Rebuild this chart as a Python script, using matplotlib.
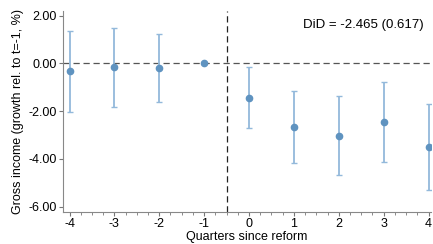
import numpy as np
import matplotlib
matplotlib.use("Agg")
import matplotlib.pyplot as plt
from matplotlib.ticker import MultipleLocator

quarters = [-4, -3, -2, -1, 0, 1, 2, 3, 4]
coef = [-0.31, -0.17, -0.20, 0.0, -1.44, -2.67, -3.03, -2.46, -3.51]
ci_hi = [1.37, 1.47, 1.23, 0.0, -0.14, -1.16, -1.37, -0.80, -1.72]
ci_lo = [-2.03, -1.82, -1.61, 0.0, -2.73, -4.17, -4.70, -4.12, -5.31]
yticks = [2, 0, -2, -4, -6]
did_text = "DiD = -2.465 (0.617)"

plt.rcParams["font.family"] = ["Liberation Sans", "DejaVu Sans"]
plt.rcParams["axes.unicode_minus"] = False

fig = plt.figure(figsize=(4.33, 2.44), dpi=100)
ax = fig.add_axes([0.146, 0.132, 0.849, 0.823])

q = np.array(quarters)
c = np.array(coef)
lo = np.array(ci_lo)
hi = np.array(ci_hi)
ax.axhline(0, color="#555555", ls=(0, (5, 3)), lw=0.9, zorder=1)
ax.axvline(-0.5, color="#222222", ls=(0, (5, 3)), lw=0.9, zorder=1)
ax.errorbar(q, c, yerr=[c - lo, hi - c], fmt="none", ecolor="#93b9db",
            elinewidth=1.3, capsize=2.5, capthick=1.0, zorder=2)
ax.plot(q, c, "o", color="#5f93c0", ms=4.5, zorder=3)

ax.set_xlim(-4.14, 4.05)
ax.set_ylim(-6.22, 2.19)
ax.set_xticks(quarters)
ax.xaxis.set_minor_locator(MultipleLocator(0.25))
ax.set_yticks(yticks)
ax.set_yticklabels([f"{v:.2f}" for v in yticks])
ax.tick_params(axis="both", labelsize=9, length=3, color="#777777", width=0.8, pad=1.5)
ax.tick_params(axis="x", which="minor", length=2, color="#777777", width=0.6)
for s in ["top", "right"]:
    ax.spines[s].set_visible(False)
for s in ["left", "bottom"]:
    ax.spines[s].set_color("#888888")
    ax.spines[s].set_linewidth(0.8)

ax.set_xlabel("Quarters since reform", fontsize=9, labelpad=0.5)
ax.set_ylabel("Gross income (growth rel. to t=-1, %)", fontsize=9, labelpad=3)
ax.text(0.98, 0.93, did_text, transform=ax.transAxes, ha="right", va="center",
        fontsize=9.5)

fig.savefig("out.png", dpi=100)
